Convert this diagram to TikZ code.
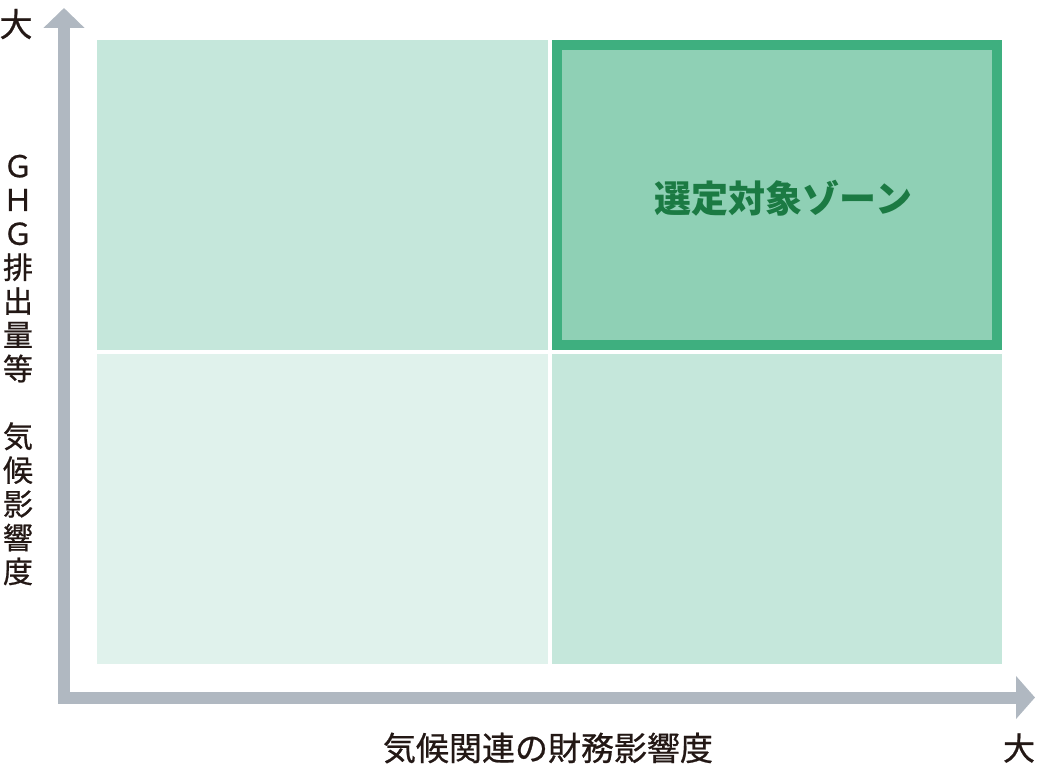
\documentclass[tikz,border=0pt]{standalone}
\usepackage{fontspec}
\setmainfont{Noto Sans CJK JP}
\newfontfamily\medfont[FakeBold=0.7]{Noto Sans CJK JP}
\usetikzlibrary{arrows.meta}
\definecolor{axisgray}{HTML}{B0B8C1}
\definecolor{qlight}{HTML}{C5E7DB}
\definecolor{qlighter}{HTML}{E0F2EC}
\definecolor{qsel}{HTML}{8FD0B5}
\definecolor{qborder}{HTML}{3EAF7F}
\definecolor{seltext}{HTML}{1B7A43}
\definecolor{ink}{HTML}{231815}
\begin{document}
\begin{tikzpicture}[x=1pt,y=-1pt,
  quad/.style={minimum width=451pt,minimum height=310pt,inner sep=0pt,outer sep=0pt},
  axis/.style={draw=axisgray,line width=12pt,line join=miter,
    {Triangle[width=40pt,length=20pt]}-{Triangle[width=42pt,length=19pt]}},
  lbl/.style={text=ink,inner sep=0pt}]
\useasboundingbox (0,0) rectangle (1040,770);
% quadrants
\node[quad,fill=qlight] (tl) at (322.5,195) {};
\node[quad,fill=qlighter] (bl) at (322.5,509) {};
\node[quad,fill=qlight,minimum width=450pt] (br) at (777,509) {};
\node[quad,fill=qsel,draw=qborder,line width=10pt,minimum width=440pt,minimum height=300pt] (tr) at (777,195) {};
\node[text=seltext,inner sep=0pt,font=\fontsize{37}{40}\selectfont\bfseries] (title) at (783.5,198) {選定対象ゾーン};
% axes
\coordinate (ytip) at (64,8);
\coordinate (corner) at (64,697.5);
\coordinate (xtip) at (1035,697.5);
\draw[axis] (ytip) -- (corner) -- (xtip);
% labels
\node[lbl,font=\medfont\fontsize{33}{33}\selectfont] (ybig) at (16,24) {大};
\node[lbl,font=\medfont\fontsize{32}{32}\selectfont] (xbig) at (1019,748) {大};
\node[lbl,font=\medfont\fontsize{33}{33}\selectfont] (xlabel) at (548,748) {気候関連の財務影響度};
\node[lbl,align=center,font=\medfont\fontsize{30}{33.8}\selectfont] (ylabel) at (18,370)
  {Ｇ\\Ｈ\\Ｇ\\排\\出\\量\\等\\[33.8pt]気\\候\\影\\響\\度};
\end{tikzpicture}
\end{document}
